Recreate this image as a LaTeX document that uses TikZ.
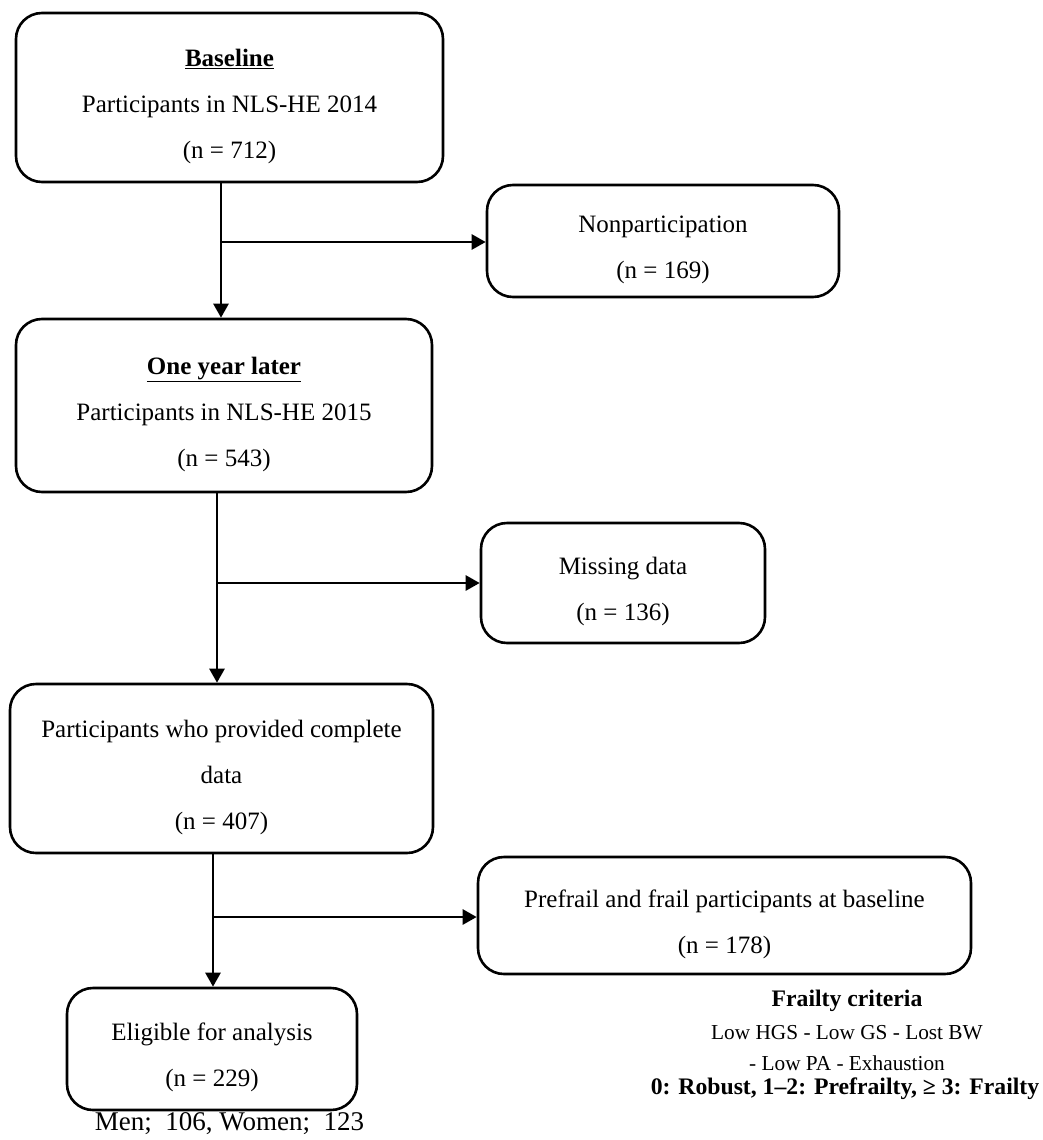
\documentclass[tikz,border=0pt]{standalone}
\usepackage{fontspec}
\setmainfont{Liberation Serif}
\usetikzlibrary{arrows.meta}
\def\topgap{\rule{0pt}{35pt}}
\tikzset{
	flowbox/.style={draw, line width=2.6pt, rounded corners=26pt, align=center, font=\fontsize{25}{46}\selectfont},
	flowarrow/.style={line width=2.6pt, -{Triangle[length=14pt,width=15pt]}},
}

\begin{document}
\begin{tikzpicture}[x=1pt, y=-1pt]
			%%%%% START %%%%%
			\useasboundingbox (0, 0) rectangle (1043, 1140);
			
			\node[flowbox, minimum width=427pt, minimum height=169pt] (base) at (229.5, 97.5) {\topgap\underline{\textbf{Baseline}}\\ Participants in NLS-HE 2014\\ (n = 712)};
			\node[flowbox, minimum width=352pt, minimum height=112pt] (nonpart) at (663, 241) {\topgap Nonparticipation\\ (n = 169)};
			
			\node[flowbox, minimum width=416pt, minimum height=173pt] (later) at (224, 405.5) {\topgap\underline{\textbf{One year later}}\\ Participants in NLS-HE 2015\\ (n = 543)};
			\node[flowbox, minimum width=284pt, minimum height=120pt] (missing) at (623, 583) {\topgap Missing data\\ (n = 136)};
			
			\node[flowbox, minimum width=423pt, minimum height=169pt] (complete) at (221.5, 768.5) {\topgap Participants who provided complete\\ data\\ (n = 407)};
			\node[flowbox, minimum width=493pt, minimum height=117pt] (prefrail) at (724.5, 915.5) {\topgap Prefrail and frail participants at baseline\\ (n = 178)};
			
			\node[flowbox, minimum width=290pt, minimum height=122pt] (eligible) at (212, 1049) {\topgap Eligible for analysis\\ (n = 229)};
			\node[font=\fontsize{27}{30}\selectfont] (sexes) at (229.5, 1124) {Men;\ \ 106, Women;\ \ 123};
			
			\node[font=\fontsize{23.7}{28}\selectfont\bfseries] (critA) at (847, 1001) {Frailty criteria};
			\node[font=\fontsize{21.3}{26}\selectfont] (critB) at (847, 1033) {Low HGS - Low GS - Lost BW};
			\node[font=\fontsize{21.3}{26}\selectfont] (critC) at (847, 1063) {- Low PA - Exhaustion};
			\node[font=\fontsize{23.7}{28}\selectfont\bfseries] (critD) at (845, 1089) {0: Robust, 1–2: Prefrailty, ≥ 3: Frailty};
			
			\coordinate (j1) at (221, 242);
			\coordinate (j2) at (217, 583);
			\coordinate (j3) at (213, 917);
			
			\draw[flowarrow] (base.south -| j1) -- (later.north -| j1);
			\draw[flowarrow] (j1) -- (j1 -| nonpart.west);
			
			\draw[flowarrow] (later.south -| j2) -- (complete.north -| j2);
			\draw[flowarrow] (j2) -- (j2 -| missing.west);
			
			\draw[flowarrow] (complete.south -| j3) -- (eligible.north -| j3);
			\draw[flowarrow] (j3) -- (j3 -| prefrail.west);
			
			%%%%% END %%%%%
\end{tikzpicture}
\end{document}
